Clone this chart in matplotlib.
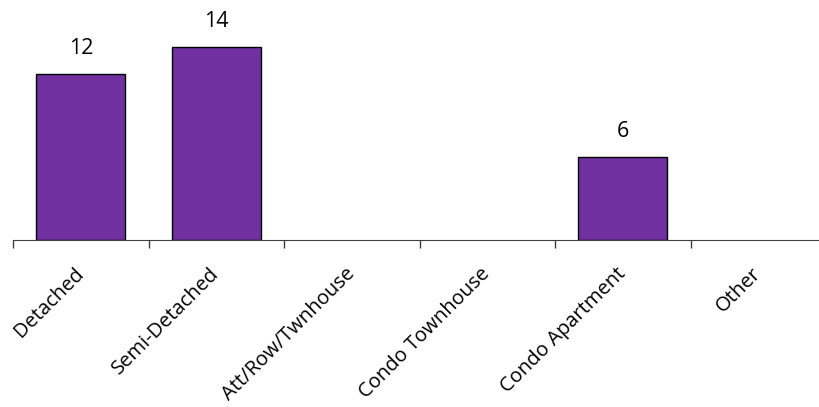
import matplotlib.pyplot as plt
import numpy as np

categories = ['Detached', 'Semi-Detached', 'Att/Row/Twnhouse', 'Condo Townhouse', 'Condo Apartment', 'Other']
counts = [12, 14, 0, 0, 6, 0]

plt.rcParams['font.family'] = ['Open Sans', 'DejaVu Sans']

fig = plt.figure(figsize=(8.19, 4.07), dpi=100)
# axis runs off the right edge, as in the original
ax = fig.add_axes([13 / 819, 1 - 240 / 407, 813 / 819, 240 / 407])

x = np.arange(len(categories))
bars = ax.bar(x, counts, width=0.66, color='#7030A0', edgecolor='black', linewidth=1)
for b, c in zip(bars, counts):
    if c == 0:
        b.set_visible(False)

for xi, c in zip(x, counts):
    if c > 0:
        ax.text(xi, c + 1.1, str(c), ha='center', va='bottom', fontsize=15.5)

ax.set_xlim(-0.5, len(categories) - 0.5)
ax.set_ylim(0, 17.4)

for s in ['top', 'right', 'left']:
    ax.spines[s].set_visible(False)
ax.spines['bottom'].set_color('#404040')
ax.set_yticks([])

ax.set_xticks(x)
ax.set_xticklabels(categories, rotation=45, ha='right', va='center', rotation_mode='anchor', fontsize=14.5)
ax.tick_params(axis='x', which='major', length=0, pad=22)
ax.set_xticks(np.arange(len(categories) + 1) - 0.5, minor=True)
ax.tick_params(axis='x', which='minor', length=6, color='#404040', width=1)

fig.savefig('out.png', dpi=100)
